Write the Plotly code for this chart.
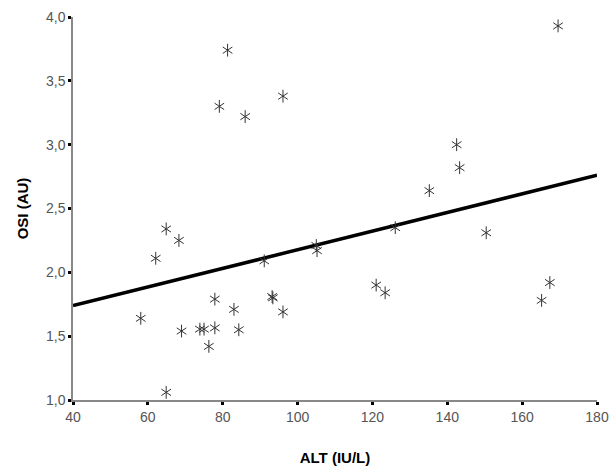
import plotly.graph_objects as go

# Data
alt = [58.1, 62.1, 64.9, 64.9, 68.3, 69.0, 73.9, 75.0, 76.3, 77.9, 77.9, 83.0, 84.3,
       91.1, 93.2, 93.4, 96.1, 105.0, 105.2, 79.1, 81.3, 86.0, 96.1,
       121.0, 123.4, 126.1, 135.2, 142.5, 143.3, 150.4, 165.2, 167.4, 169.6]
osi = [1.64, 2.11, 2.34, 1.06, 2.25, 1.54, 1.555, 1.555, 1.42, 1.79, 1.565, 1.71, 1.55,
       2.09, 1.81, 1.80, 1.69, 2.21, 2.17, 3.30, 3.74, 3.22, 3.38,
       1.90, 1.84, 2.35, 2.64, 3.00, 2.82, 2.31, 1.78, 1.92, 3.93]

# Regression line (intercept, slope)
fit_intercept = 1.448
fit_slope = 0.00729
fit_x = [40, 180]
fit_y = [fit_intercept + fit_slope * x for x in fit_x]

x_ticks = [40, 60, 80, 100, 120, 140, 160, 180]
y_ticks = [1.0, 1.5, 2.0, 2.5, 3.0, 3.5, 4.0]

fig = go.Figure()
fig.add_trace(go.Scatter(x=fit_x, y=fit_y, mode="lines",
                         line=dict(color="black", width=3.5), showlegend=False,
                         cliponaxis=False, hoverinfo="skip"))
for sym in ["y-up-open", "y-down-open"]:
    fig.add_trace(go.Scatter(x=alt, y=osi, mode="markers",
                             marker=dict(symbol=sym, size=8, color="#333333",
                                         line=dict(color="#333333", width=1)),
                             showlegend=False, cliponaxis=False))

axis_common = dict(showgrid=False, zeroline=False, showline=True, automargin=False,
                   linecolor="#888888", linewidth=1.5,
                   ticks="outside", ticklen=3, tickwidth=3, tickcolor="black",
                   tickfont=dict(family="Liberation Sans, Arial", size=14, color="#555555"))

fig.update_layout(
    width=611, height=466,
    margin=dict(l=73, r=14, t=17, b=66),
    paper_bgcolor="white", plot_bgcolor="white",
    separators=",.",
    xaxis=dict(range=[40, 180], tickvals=x_ticks, tickformat="d",
               title=dict(text="<b>ALT (IU/L)</b>", standoff=29,
                          font=dict(family="Liberation Sans, Arial", size=15, color="black")),
               **axis_common),
    yaxis=dict(range=[1, 4], tickvals=y_ticks, tickformat=".1f",
               title=dict(text="<b>OSI (AU)</b>", standoff=14,
                          font=dict(family="Liberation Sans, Arial", size=15, color="black")),
               **axis_common),
)

# Remove the default page margin so the 611x466 figure fills the window exactly
fig.write_html("out.html", config={"displayModeBar": False},
               post_script="document.body.style.margin='0';document.body.style.overflow='hidden';")
